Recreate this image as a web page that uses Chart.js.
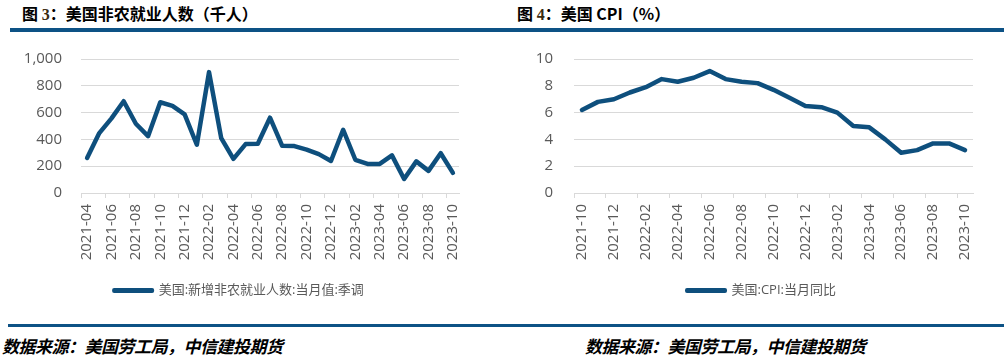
<!DOCTYPE html>
<html>
<head>
<meta charset="utf-8">
<script src="https://cdn.jsdelivr.net/npm/chart.js@4/dist/chart.umd.min.js"></script>
<style>
  html,body{margin:0;padding:0;background:#fff;width:1004px;height:359px;overflow:hidden;position:relative;
    font-family:"Noto Sans CJK SC","Noto Sans",sans-serif;}
  .title{position:absolute;top:1px;font-size:16px;font-weight:bold;color:#000;white-space:nowrap;}
  .title .n{font-family:"Liberation Serif",serif;color:#3a2a10;}
  .rule{position:absolute;background:#0d5285;}
  .src{position:absolute;top:333px;font-size:17px;font-weight:bold;font-style:italic;color:#000;white-space:nowrap;letter-spacing:-0.5px;}
  .box{position:absolute;top:40px;}
</style>
</head>
<body>
<div class="title" style="left:22px">图 <span class="n">3</span>：美国非农就业人数（千人）</div>
<div class="title" style="left:517px">图 <span class="n">4</span>：美国 CPI（%）</div>
<div class="rule" style="left:10px;top:28px;width:994px;height:4px"></div>
<div class="rule" style="left:8px;top:324px;width:996px;height:3px"></div>
<div class="src" style="left:2px">数据来源：美国劳工局，中信建投期货</div>
<div class="src" style="left:585px">数据来源：美国劳工局，中信建投期货</div>

<div class="box" style="left:0;width:500px;height:267px"><canvas id="c1"></canvas></div>
<div class="box" style="left:500px;width:504px;height:267px"><canvas id="c2"></canvas></div>

<script>
'use strict';

/* 非农：2021-04 .. 2023-10（千人） */
const nfpMonths = ['2021-04','2021-05','2021-06','2021-07','2021-08','2021-09','2021-10','2021-11','2021-12',
  '2022-01','2022-02','2022-03','2022-04','2022-05','2022-06','2022-07','2022-08','2022-09','2022-10','2022-11','2022-12',
  '2023-01','2023-02','2023-03','2023-04','2023-05','2023-06','2023-07','2023-08','2023-09','2023-10'];
const nfpValues = [262,447,557,685,517,424,677,650,587,
  360,902,410,255,365,368,562,352,350,324,290,239,
  472,248,217,217,281,105,236,165,297,150];
const nfpName = '美国:新增非农就业人数:当月值:季调';

/* CPI：2021-10 .. 2023-10（%） */
const cpiMonths = ['2021-10','2021-11','2021-12',
  '2022-01','2022-02','2022-03','2022-04','2022-05','2022-06','2022-07','2022-08','2022-09','2022-10','2022-11','2022-12',
  '2023-01','2023-02','2023-03','2023-04','2023-05','2023-06','2023-07','2023-08','2023-09','2023-10'];
const cpiValues = [6.2,6.8,7.0,
  7.5,7.9,8.5,8.3,8.6,9.1,8.5,8.3,8.2,7.7,7.1,6.5,
  6.4,6.0,5.0,4.9,4.0,3.0,3.2,3.7,3.7,3.2];
const cpiName = '美国:CPI:当月同比';

const LINE='#0e4f7d', GRID='#d9d9d9', TXT='#595959';
const FONT='"Open Sans","Noto Sans CJK SC",sans-serif';

// 图例整体平移（居中位置和原图对齐用）
const legendShift = { id:'legendShift',
  afterLayout(chart, args, opts){ const dx=opts.dx||0; chart.legend.left+=dx; chart.legend.right+=dx; } };

// padL + yW = 绘图区左边；标签离绘图区 yGap 像素（用透明刻度线撑开，避免 ticks.padding 挤压顶部）
function makeChart(id, labels, data, name, yMax, yStep, padL, yW, yGap, padR, dx, fmt){
  return new Chart(document.getElementById(id), {
    type:'line',
    data:{ labels, datasets:[{ label:name, data, borderColor:LINE, backgroundColor:LINE,
      borderWidth:4.5, pointRadius:0, tension:0, borderJoinStyle:'round', borderCapStyle:'round' }] },
    plugins:[legendShift],
    options:{
      responsive:true, maintainAspectRatio:false, animation:false,
      layout:{ padding:{ left:padL, right:padR, top:19, bottom:0 } },
      plugins:{
        tooltip:{ enabled:false },
        legendShift:{ dx },
        legend:{ position:'bottom',
          labels:{ color:TXT, font:{ family:FONT, size:13 }, boxWidth:38, boxHeight:1,
            generateLabels(chart){
              return Chart.defaults.plugins.legend.labels.generateLabels(chart)
                .map(l=>Object.assign(l,{ lineCap:'round', lineWidth:4, fillStyle:LINE, strokeStyle:LINE }));
            } } }
      },
      scales:{
        x:{ offset:true,
          grid:{ offset:true, drawOnChartArea:false, tickLength:5,
            tickColor:(c)=> (typeof c.index==='number' && c.index%2===0) ? GRID : 'rgba(0,0,0,0)' },
          border:{ color:GRID },
          ticks:{ autoSkip:false, maxRotation:90, minRotation:90, color:TXT, padding:6,
            font:{ family:FONT, size:15 },
            callback(v,i){ return i%2===0 ? this.getLabelForValue(v) : ''; } },
          afterFit(s){ s.height = 81; } },
        y:{ min:0, max:yMax,
          grid:{ color:GRID, drawTicks:true, tickLength:yGap-3, tickColor:'rgba(0,0,0,0)' },
          border:{ display:false },
          ticks:{ stepSize:yStep, color:TXT, padding:3, font:{ family:FONT, size:15 }, callback:fmt },
          afterFit(s){ s.width = yW; } }
      }
    }
  });
}

makeChart('c1', nfpMonths, nfpValues, nfpName, 1000, 200, 19, 62, 19, 41, 0, v=>v.toLocaleString('en-US'));
makeChart('c2', cpiMonths, cpiValues, cpiName, 10, 2, 0, 74, 21, 31, 25, v=>v);
</script>
</body>
</html>
